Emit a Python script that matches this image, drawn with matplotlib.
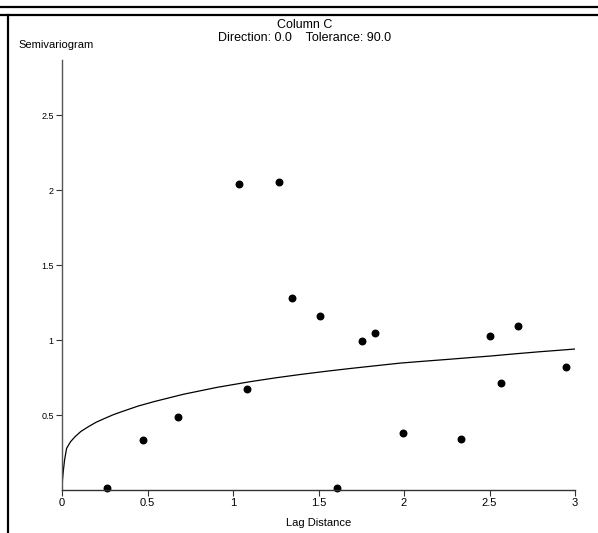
import matplotlib.pyplot as plt
from matplotlib.lines import Line2D

# experimental semivariogram points
lag = [0.263, 0.474, 0.676, 1.084, 1.035, 1.271, 1.343, 1.511, 1.608,
       1.752, 1.830, 1.994, 2.333, 2.503, 2.565, 2.668, 2.947]
gamma = [0.013, 0.333, 0.484, 0.673, 2.040, 2.051, 1.282, 1.160, 0.013,
         0.993, 1.049, 0.380, 0.340, 1.029, 0.711, 1.091, 0.822]

# fitted model curve
model_lag = [0.0, 0.003, 0.008, 0.015, 0.027, 0.05, 0.076, 0.11, 0.154, 0.2,
             0.251, 0.3, 0.349, 0.446, 0.544, 0.709, 0.905, 1.099, 1.25,
             1.392, 1.54, 1.684, 1.83, 1.977, 2.12, 2.269, 2.4, 2.503,
             2.65, 2.795, 2.9, 3.0]
model_gamma = [0.0, 0.07, 0.13, 0.2, 0.278, 0.322, 0.355, 0.39, 0.422, 0.452,
               0.478, 0.502, 0.522, 0.56, 0.591, 0.638, 0.684, 0.722, 0.748,
               0.770, 0.791, 0.810, 0.828, 0.846, 0.859, 0.872, 0.884, 0.893,
               0.908, 0.922, 0.931, 0.94]

xticks = [0, 0.5, 1, 1.5, 2, 2.5, 3]
xticklabels = ["0", "0.5", "1", "1.5", "2", "2.5", "3"]
yticks = [0.5, 1, 1.5, 2, 2.5]
yticklabels = ["0.5", "1", "1.5", "2", "2.5"]

W, H = 598, 533
fig = plt.figure(figsize=(W / 100, H / 100), dpi=100)
ax = fig.add_axes([62 / W, 1 - 490 / H, (575 - 62) / W, (490 - 60) / H])

ax.plot(model_lag, model_gamma, color="black", lw=0.9)
ax.plot(lag, gamma, "o", color="black", ms=4.7, clip_on=False)

ax.set_xlim(0, 3)
ax.set_ylim(0, 2.867)
for s in ["top", "right"]:
    ax.spines[s].set_visible(False)
ax.spines["left"].set_color("#555555")
ax.spines["bottom"].set_color("#333333")
ax.spines["left"].set_linewidth(1.0)
ax.spines["bottom"].set_linewidth(1.0)

ax.set_xticks(xticks)
ax.set_xticklabels(xticklabels, family="Liberation Sans", fontsize=8)
ax.set_yticks(yticks)
ax.set_yticklabels(yticklabels, family=["Liberation Sans Narrow", "Liberation Sans"],
                   fontsize=6.5)
ax.tick_params(axis="both", length=4, width=0.8, colors="#333333", pad=2)
ax.tick_params(axis="both", labelcolor="black")

ax.set_xlabel("Lag Distance", family="Liberation Sans", fontsize=8, labelpad=7)
fig.text(18 / W, 1 - 45 / H, "Semivariogram",
         family=["Liberation Sans Narrow", "Liberation Sans"], fontsize=8,
         va="center", ha="left")

fig.text(305 / W, 1 - 25 / H, "Column C", family="Liberation Sans",
         fontsize=9, ha="center", va="center")
fig.text(305 / W, 1 - 38 / H, "Direction: 0.0    Tolerance: 90.0",
         family="Liberation Sans", fontsize=9, ha="center", va="center")

# window frame
fig.add_artist(Line2D([0, 1], [1 - 7 / H, 1 - 7 / H], color="black", lw=1.6))
fig.add_artist(Line2D([0, 1], [1 - 14.5 / H, 1 - 14.5 / H], color="black", lw=1.6))
fig.add_artist(Line2D([8 / W, 8 / W], [0, 1 - 14.5 / H], color="black", lw=1.6))

fig.savefig("out.png", dpi=100)
